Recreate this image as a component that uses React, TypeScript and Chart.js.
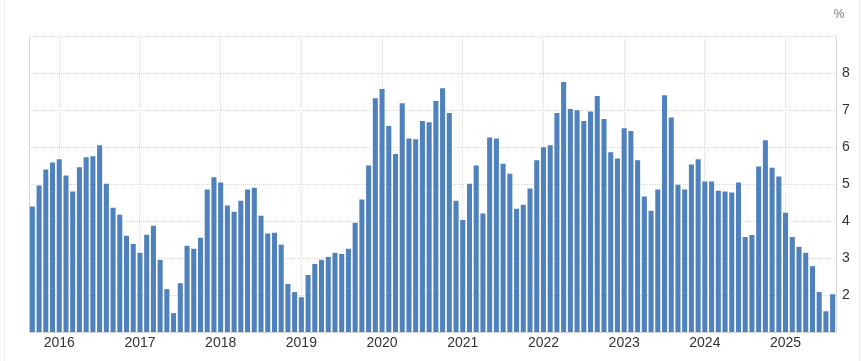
import React, { useEffect, useRef } from "react";
import { Chart, registerables } from "chart.js";

Chart.register(...registerables);

const startYear = 2015;
const startMonth = 9; // September
const yearLabels = ["2016", "2017", "2018", "2019", "2020", "2021", "2022", "2023", "2024", "2025"];

const values2015 = [4.39, 4.96, 5.39, 5.58];
const values2016 = [5.67, 5.23, 4.8, 5.45, 5.72, 5.75, 6.05, 5.01, 4.36, 4.17, 3.6, 3.38];
const values2017 = [3.14, 3.63, 3.87, 2.95, 2.16, 1.51, 2.32, 3.33, 3.25, 3.55, 4.85, 5.18];
const values2018 = [5.04, 4.42, 4.25, 4.55, 4.85, 4.9, 4.14, 3.66, 3.68, 3.36, 2.3, 2.08];
const values2019 = [1.94, 2.54, 2.84, 2.95, 3.03, 3.14, 3.11, 3.25, 3.95, 4.58, 5.5, 7.32];
const values2020 = [7.57, 6.57, 5.81, 7.18, 6.23, 6.21, 6.7, 6.67, 7.24, 7.59, 6.92, 4.55];
const values2021 = [4.03, 5.01, 5.5, 4.2, 6.26, 6.23, 5.55, 5.28, 4.33, 4.44, 4.88, 5.64];
const values2022 = [5.99, 6.05, 6.92, 7.76, 7.03, 6.99, 6.7, 6.96, 7.38, 6.76, 5.86, 5.69];
const values2023 = [6.51, 6.43, 5.64, 4.66, 4.28, 4.85, 7.4, 6.8, 4.98, 4.85, 5.53, 5.67];
const values2024 = [5.07, 5.07, 4.82, 4.8, 4.77, 5.04, 3.57, 3.62, 5.47, 6.18, 5.44, 5.2];
const values2025 = [4.22, 3.57, 3.3, 3.14, 2.78, 2.08, 1.56, 2.02];

const values = [
  ...values2015, ...values2016, ...values2017, ...values2018, ...values2019, ...values2020,
  ...values2021, ...values2022, ...values2023, ...values2024, ...values2025,
];

const categories: string[] = values.map((_, i) => {
  const m = startMonth - 1 + i;
  const y = startYear + Math.floor(m / 12);
  const mm = (m % 12) + 1;
  return `${y}-${mm < 10 ? "0" : ""}${mm}`;
});

const yTicks = [2, 3, 4, 5, 6, 7, 8];

const isJanuary = (i: number) => categories[i] && categories[i].endsWith("-01");

const FONT = "'Liberation Sans', Arial, sans-serif";

const unitPlugin = {
  id: "unitLabel",
  afterDraw(chart: any) {
    const { ctx } = chart;
    ctx.save();
    ctx.font = `12px ${FONT}`;
    ctx.fillStyle = "#7a7a7a";
    ctx.textAlign = "center";
    ctx.textBaseline = "middle";
    ctx.fillText("%", chart.chartArea.right + 3, 15);
    ctx.restore();
  },
};

export default function App() {
  const ref = useRef<HTMLCanvasElement | null>(null);

  useEffect(() => {
    if (!ref.current) return;
    const chart = new Chart(ref.current, {
      type: "bar",
      data: {
        labels: categories,
        datasets: [
          {
            data: values,
            backgroundColor: "#4f81bd",
            borderWidth: 0,
            barPercentage: 0.75,
            categoryPercentage: 1,
            yAxisID: "y",
          },
        ],
      },
      options: {
        animation: false,
        responsive: true,
        maintainAspectRatio: false,
        layout: { padding: { left: 29, top: 36, right: 0, bottom: 0 } },
        plugins: { legend: { display: false }, tooltip: { enabled: false }, title: { display: false } },
        scales: {
          x: {
            type: "category",
            offset: true,
            grid: {
              display: true,
              offset: false,
              drawTicks: false,
              color: (ctx: any) => (isJanuary(ctx.index) ? "#d8d8d8" : "rgba(0,0,0,0)"),
              lineWidth: 1,
            },
            border: { display: true, color: "#d8d8d8", dash: [1, 1] },
            ticks: {
              autoSkip: false,
              maxRotation: 0,
              minRotation: 0,
              padding: 3,
              color: "#333333",
              font: { family: FONT, size: 14 },
              callback: (_v: any, i: number) => {
                if (!isJanuary(i)) return "";
                const y = categories[i].slice(0, 4);
                return yearLabels.includes(y) ? y : "";
              },
            },
            afterFit: (s: any) => {
              s.height = 29;
            },
          },
          y: {
            type: "linear",
            position: "right",
            min: 1,
            max: 9,
            grid: { display: true, drawTicks: false, color: "#d8d8d8", lineWidth: 1 },
            border: { display: true, color: "#d8d8d8", dash: [1, 1] },
            ticks: {
              stepSize: 1,
              padding: 6,
              color: "#333333",
              font: { family: FONT, size: 14 },
              callback: (v: any) => (yTicks.includes(Number(v)) ? String(v) : ""),
            },
            afterFit: (s: any) => {
              s.width = 27;
            },
          },
          yl: {
            type: "linear",
            position: "left",
            display: true,
            grid: { display: false, drawTicks: false },
            border: { display: true, color: "#d8d8d8" },
            ticks: { display: false },
            afterFit: (s: any) => {
              s.width = 0;
            },
          },
        },
      },
      plugins: [unitPlugin],
    } as any);
    return () => chart.destroy();
  }, []);

  return (
    <div style={{ position: "absolute", left: 0, top: 0, width: 863, height: 361, background: "#ffffff" }}>
      <div style={{ position: "absolute", left: 4, top: 0, width: 1, height: 361, background: "#eeeeee" }} />
      <div style={{ position: "absolute", left: 859, top: 0, width: 1, height: 361, background: "#eeeeee" }} />
      <div style={{ position: "absolute", left: 0, top: 0, width: 863, height: 361 }}>
        <canvas ref={ref} />
      </div>
    </div>
  );
}
